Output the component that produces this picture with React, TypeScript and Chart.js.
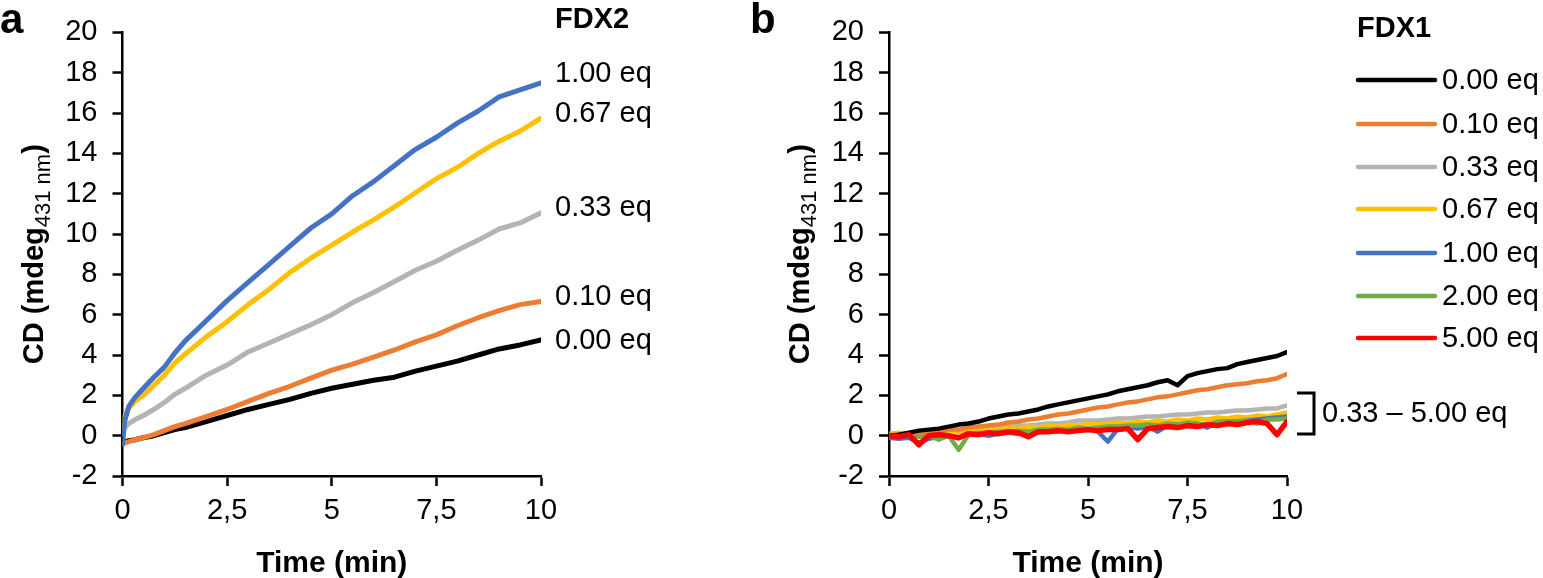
import { useEffect, useRef } from "react";
import { Chart, registerables } from "chart.js";
Chart.register(...registerables);

const FONT = "'Liberation Sans', Arial, sans-serif";

// ---------- Panel a: FDX2 ----------
const timeA = [0, 0.05, 0.15, 0.3, 0.5, 0.75, 1, 1.25, 1.5, 2, 2.5, 3, 3.5, 4, 4.5, 5, 5.5, 6, 6.5, 7, 7.5, 8, 8.5, 9, 9.5, 10];
const fdx2_100 = [-0.45, 0.7, 1.45, 1.9, 2.35, 2.9, 3.4, 4.1, 4.7, 5.7, 6.7, 7.6, 8.5, 9.4, 10.3, 11.0, 11.9, 12.6, 13.4, 14.2, 14.8, 15.5, 16.1, 16.8, 17.15, 17.5];
const fdx2_067 = [0.5, 0.95, 1.35, 1.7, 2.0, 2.5, 3.0, 3.6, 4.05, 4.9, 5.65, 6.5, 7.25, 8.1, 8.8, 9.45, 10.1, 10.7, 11.35, 12.05, 12.75, 13.3, 14.0, 14.6, 15.1, 15.75];
const fdx2_033 = [0.1, 0.4, 0.6, 0.8, 1.0, 1.3, 1.65, 2.05, 2.35, 3.0, 3.5, 4.15, 4.6, 5.05, 5.5, 6.0, 6.6, 7.1, 7.65, 8.2, 8.65, 9.2, 9.7, 10.25, 10.55, 11.05];
const fdx2_010 = [-0.4, -0.35, -0.3, -0.2, -0.1, 0.05, 0.25, 0.45, 0.6, 0.95, 1.3, 1.7, 2.1, 2.45, 2.85, 3.25, 3.55, 3.9, 4.25, 4.65, 5.0, 5.45, 5.85, 6.2, 6.5, 6.65];
const fdx2_000 = [-0.3, -0.3, -0.25, -0.2, -0.1, 0.0, 0.15, 0.3, 0.4, 0.7, 1.0, 1.3, 1.55, 1.8, 2.1, 2.35, 2.55, 2.75, 2.9, 3.2, 3.45, 3.7, 4.0, 4.3, 4.5, 4.75];

// ---------- Panel b: FDX1 ----------
const timeB = [0, 0.25, 0.5, 0.75, 1, 1.25, 1.5, 1.75, 2, 2.25, 2.5, 2.75, 3, 3.25, 3.5, 3.75, 4, 4.25, 4.5, 4.75, 5, 5.25, 5.5, 5.75, 6, 6.25, 6.5, 6.75, 7, 7.25, 7.5, 7.75, 8, 8.25, 8.5, 8.75, 9, 9.25, 9.5, 9.75, 10];
const fdx1_000 = [0.0, 0.05, 0.15, 0.25, 0.3, 0.35, 0.45, 0.55, 0.6, 0.7, 0.85, 0.95, 1.05, 1.1, 1.2, 1.3, 1.45, 1.55, 1.65, 1.75, 1.85, 1.95, 2.05, 2.2, 2.3, 2.4, 2.5, 2.65, 2.75, 2.5, 2.95, 3.1, 3.2, 3.3, 3.35, 3.55, 3.65, 3.75, 3.85, 3.95, 4.15];
const fdx1_010 = [0.0, 0.05, 0.1, 0.15, 0.2, 0.2, 0.3, 0.3, 0.4, 0.45, 0.5, 0.55, 0.65, 0.7, 0.8, 0.85, 0.95, 1.05, 1.1, 1.2, 1.3, 1.4, 1.45, 1.55, 1.65, 1.7, 1.8, 1.9, 1.95, 2.05, 2.15, 2.25, 2.3, 2.4, 2.5, 2.55, 2.6, 2.7, 2.75, 2.85, 3.05];
const fdx1_033 = [0.05, 0.1, 0.1, 0.15, 0.15, 0.2, 0.25, 0.25, 0.3, 0.35, 0.4, 0.4, 0.45, 0.5, 0.5, 0.55, 0.6, 0.6, 0.65, 0.75, 0.75, 0.75, 0.8, 0.85, 0.85, 0.9, 0.95, 0.95, 1.0, 1.05, 1.05, 1.1, 1.15, 1.15, 1.2, 1.25, 1.25, 1.3, 1.35, 1.35, 1.5];
const fdx1_067 = [0.1, 0.15, 0.05, 0.15, 0.2, 0.15, 0.25, 0.2, 0.3, 0.25, 0.35, 0.3, 0.4, 0.35, 0.45, 0.4, 0.5, 0.45, 0.55, 0.5, 0.6, 0.55, 0.6, 0.65, 0.6, 0.7, 0.65, 0.75, 0.7, 0.8, 0.75, 0.85, 0.8, 0.9, 0.85, 0.95, 0.9, 1.0, 0.95, 1.05, 1.15];
const fdx1_100 = [-0.1, -0.15, -0.1, -0.35, -0.15, -0.05, 0.0, -0.1, 0.05, 0.1, 0.0, 0.1, 0.15, 0.1, 0.2, 0.15, 0.25, 0.2, 0.3, 0.25, 0.3, 0.2, -0.3, 0.35, 0.4, 0.35, 0.45, 0.2, 0.5, 0.55, 0.5, 0.6, 0.4, 0.65, 0.7, 0.7, 0.75, 0.8, 0.85, 0.9, 0.95];
const fdx1_200 = [0.05, 0.0, 0.05, -0.05, 0.0, -0.2, 0.0, -0.7, 0.05, 0.15, 0.1, 0.2, 0.2, 0.25, 0.2, 0.3, 0.3, 0.35, 0.3, 0.4, 0.35, 0.4, 0.45, 0.45, 0.5, 0.5, 0.55, 0.5, 0.6, 0.55, 0.65, 0.6, 0.55, 0.7, 0.7, 0.65, 0.75, 0.6, 0.8, 0.8, 0.85];
const fdx1_500 = [0.0, -0.05, 0.05, -0.45, 0.0, 0.05, 0.0, -0.1, 0.1, 0.05, 0.15, 0.1, 0.2, 0.15, -0.05, 0.2, 0.2, 0.25, 0.2, 0.25, 0.3, 0.25, 0.3, 0.3, 0.35, -0.2, 0.35, 0.4, 0.45, 0.4, 0.5, 0.45, 0.55, 0.5, 0.6, 0.55, 0.65, 0.7, 0.6, 0.05, 0.7];

// ---------- Axes ----------
const xTickValues = [0, 2.5, 5, 7.5, 10];
const xTickLabels = ["0", "2,5", "5", "7,5", "10"];
const yTickValues = [-2, 0, 2, 4, 6, 8, 10, 12, 14, 16, 18, 20];

const seriesLabels = ["0.00 eq", "0.10 eq", "0.33 eq", "0.67 eq", "1.00 eq", "2.00 eq", "5.00 eq"];
const seriesColors = ["#000000", "#ED7D31", "#B4B4B4", "#FFC000", "#4472C4", "#70AD47", "#FF0000"];

// panel a right-hand labels
const labelsA = ["1.00 eq", "0.67 eq", "0.33 eq", "0.10 eq", "0.00 eq"];
const labelRowsA = [73, 113, 207, 296, 340];
const legendRowsB = [80, 124, 167, 209, 253, 296, 338];

const H = 578;
const TOP = 25;
const BOTTOM = 476;

function drawYTitle(ctx: CanvasRenderingContext2D, baseX: number, cy: number) {
  ctx.save();
  ctx.translate(baseX, cy);
  ctx.rotate(-Math.PI / 2);
  const bold = `bold 29px ${FONT}`;
  const small = `22px ${FONT}`;
  ctx.font = bold;
  const w1 = ctx.measureText("CD (mdeg").width;
  const w3 = ctx.measureText(")").width;
  ctx.font = small;
  const w2 = ctx.measureText("431 nm").width;
  let x = -(w1 + w2 + w3) / 2;
  ctx.fillStyle = "#000";
  ctx.textAlign = "left";
  ctx.textBaseline = "alphabetic";
  ctx.font = bold;
  ctx.fillText("CD (mdeg", x, 0);
  x += w1;
  ctx.font = small;
  ctx.fillText("431 nm", x, 7);
  x += w2;
  ctx.font = bold;
  ctx.fillText(")", x, 0);
  ctx.restore();
}

function makeOptions(width: number, left: number, right: number, extraDraw: (c: any) => void) {
  return {
    type: "line" as const,
    options: {
      animation: false,
      responsive: false,
      maintainAspectRatio: false,
      layout: { padding: { left: 0, top: TOP, right: width - right, bottom: 0 } },
      plugins: { legend: { display: false }, tooltip: { enabled: false }, title: { display: false } },
      elements: { point: { radius: 0 }, line: { tension: 0, borderJoinStyle: "round", borderCapStyle: "round" } },
      scales: {
        x: {
          type: "linear",
          min: 0,
          max: 10,
          afterFit: (s: any) => { s.height = H - BOTTOM; },
          afterBuildTicks: (s: any) => { s.ticks = xTickValues.map((v) => ({ value: v })); },
          ticks: {
            color: "#000",
            font: { family: FONT, size: 29 },
            padding: 8,
            maxRotation: 0,
            autoSkip: false,
            callback: (v: number) => { const i = xTickValues.indexOf(v); return i >= 0 ? xTickLabels[i] : ""; },
          },
          grid: { display: true, drawOnChartArea: false, drawTicks: true, tickLength: 10, tickWidth: 2.5, tickColor: "#000", color: "#000" },
          border: { display: true, color: "#000", width: 2.5 },
        },
        y: {
          type: "linear",
          min: -2,
          max: 20,
          afterFit: (s: any) => { s.width = left; },
          afterBuildTicks: (s: any) => { s.ticks = yTickValues.map((v) => ({ value: v })); },
          ticks: { color: "#000", font: { family: FONT, size: 29 }, padding: 15, autoSkip: false },
          grid: { display: true, drawOnChartArea: false, drawTicks: true, tickLength: 10, tickWidth: 2.5, tickColor: "#000", color: "#000" },
          border: { display: true, color: "#000", width: 2.5 },
        },
      },
    },
    plugins: [
      {
        id: "texts",
        afterDraw: (chart: any) => {
          const ctx = chart.ctx as CanvasRenderingContext2D;
          const ca = chart.chartArea;
          ctx.save();
          ctx.fillStyle = "#000";
          ctx.font = `bold 30px ${FONT}`;
          ctx.textAlign = "center";
          ctx.textBaseline = "alphabetic";
          ctx.fillText("Time (min)", (ca.left + ca.right) / 2, 572);
          ctx.restore();
          drawYTitle(ctx, ca.left - 80, (ca.top + ca.bottom) / 2);
          extraDraw(chart);
        },
      },
    ],
  };
}

function pts(xs: number[], ys: number[]) {
  return xs.map((x, i) => ({ x, y: ys[i] }));
}

export default function App() {
  const refA = useRef<HTMLCanvasElement>(null);
  const refB = useRef<HTMLCanvasElement>(null);

  useEffect(() => {
    const WA = 740;
    const WB = 803;
    const offB = 740;

    const cfgA: any = makeOptions(WA, 122.5, 541, (chart: any) => {
      const ctx = chart.ctx as CanvasRenderingContext2D;
      ctx.save();
      ctx.fillStyle = "#000";
      ctx.textAlign = "left";
      ctx.textBaseline = "alphabetic";
      ctx.font = `bold 42px ${FONT}`;
      ctx.fillText("a", 0, 33);
      ctx.textBaseline = "middle";
      ctx.font = `bold 29px ${FONT}`;
      ctx.fillText("FDX2", 555, 20);
      ctx.font = `29px ${FONT}`;
      labelsA.forEach((t, i) => ctx.fillText(t, 555, labelRowsA[i] + 1));
      ctx.restore();
    });
    cfgA.data = {
      datasets: [
        { label: "1.00 eq", data: pts(timeA, fdx2_100), borderColor: seriesColors[4], borderWidth: 5, order: 0 },
        { label: "0.67 eq", data: pts(timeA, fdx2_067), borderColor: seriesColors[3], borderWidth: 5, order: 1 },
        { label: "0.33 eq", data: pts(timeA, fdx2_033), borderColor: seriesColors[2], borderWidth: 5, order: 2 },
        { label: "0.10 eq", data: pts(timeA, fdx2_010), borderColor: seriesColors[1], borderWidth: 5, order: 3 },
        { label: "0.00 eq", data: pts(timeA, fdx2_000), borderColor: seriesColors[0], borderWidth: 5, order: 4 },
      ],
    };

    const cfgB: any = makeOptions(WB, 889 - offB, 1287 - offB, (chart: any) => {
      const ctx = chart.ctx as CanvasRenderingContext2D;
      ctx.save();
      ctx.fillStyle = "#000";
      ctx.textAlign = "left";
      ctx.textBaseline = "alphabetic";
      ctx.font = `bold 42px ${FONT}`;
      ctx.fillText("b", 750 - offB, 33);
      ctx.textBaseline = "middle";
      ctx.font = `bold 29px ${FONT}`;
      ctx.fillText("FDX1", 1357 - offB, 29);
      ctx.font = `29px ${FONT}`;
      seriesLabels.forEach((t, i) => {
        const y = legendRowsB[i];
        ctx.strokeStyle = seriesColors[i];
        ctx.lineWidth = 4.5;
        ctx.lineCap = "round";
        ctx.beginPath();
        ctx.moveTo(1358 - offB, y);
        ctx.lineTo(1435 - offB, y);
        ctx.stroke();
        ctx.fillText(t, 1442 - offB, y + 1);
      });
      // bracket
      ctx.strokeStyle = "#000";
      ctx.lineWidth = 3;
      ctx.lineCap = "butt";
      ctx.lineJoin = "miter";
      ctx.beginPath();
      ctx.moveTo(1297 - offB, 393);
      ctx.lineTo(1314 - offB, 393);
      ctx.lineTo(1314 - offB, 434);
      ctx.lineTo(1297 - offB, 434);
      ctx.stroke();
      ctx.fillText("0.33 \u2013 5.00 eq", 1322 - offB, 414);
      ctx.restore();
    });
    const bData = [fdx1_000, fdx1_010, fdx1_033, fdx1_067, fdx1_100, fdx1_200, fdx1_500];
    const orderB = [1, 2, 6, 5, 4, 3, 0];
    cfgB.data = {
      datasets: bData.map((d, i) => ({
        label: seriesLabels[i],
        data: pts(timeB, d),
        borderColor: seriesColors[i],
        borderWidth: i === 6 ? 5.5 : 4.5,
        order: orderB[i],
      })),
    };

    const a = new Chart(refA.current!, cfgA);
    const b = new Chart(refB.current!, cfgB);
    return () => {
      a.destroy();
      b.destroy();
    };
  }, []);

  return (
    <div style={{ position: "fixed", left: 0, top: 0, width: 1543, height: 578, background: "#fff" }}>
      <canvas ref={refA} width={740} height={578} style={{ position: "absolute", left: 0, top: 0, width: 740, height: 578 }} />
      <canvas ref={refB} width={803} height={578} style={{ position: "absolute", left: 740, top: 0, width: 803, height: 578 }} />
    </div>
  );
}
